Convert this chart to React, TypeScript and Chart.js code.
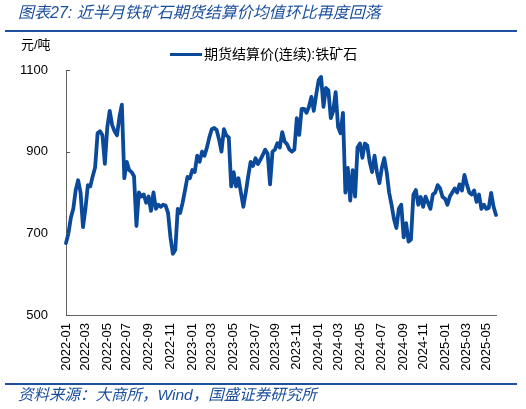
import React, { useEffect, useRef } from "react";
import { Chart, registerables } from "chart.js";

Chart.register(...registerables);

// Weekly settlement price (continuous), iron ore, yuan/ton. First point: 2022-01-07, one per week.
const firstWeek = "2022-01-07";
const values2022 = [676,700,738,760,806,830,800,715,760,818,815,840,862,945,950,940,870,960,1000,965,950,940,985,1015,835,875,855,850,840,718,800,790,795,775,790,755,800,760,770,765,770,768,750,690,650,660,760,750,775,806,838,835];
const values2023 = [855,850,890,875,900,890,910,935,955,958,953,930,900,955,940,935,815,850,815,835,800,765,800,840,875,865,884,870,880,892,905,895,820,900,905,921,910,948,925,918,905,900,905,982,941,1005,1005,995,1010,1034,1000,1040];
const values2024 = [1075,1083,1010,1056,1050,982,1000,1046,960,945,995,800,860,780,855,790,910,920,885,920,915,875,850,890,850,823,860,884,850,800,770,735,713,760,770,690,725,680,685,795,806,770,789,765,790,775,760,795,800,818,810,789];
const values2025 = [785,770,790,800,810,800,820,805,843,820,800,795,805,777,795,760,770,760,762,799,765,745];

const tickLabels = ["2022-01","2022-03","2022-05","2022-07","2022-09","2022-11","2023-01","2023-03","2023-05","2023-07","2023-09","2023-11","2024-01","2024-03","2024-05","2024-07","2024-09","2024-11","2025-01","2025-03","2025-05"];
const yTicks = [500, 700, 900, 1100];

const seriesName = "期货结算价(连续):铁矿石";
const titleText = "图表27:  近半月铁矿石期货结算价均值环比再度回落";
const sourceText = "资料来源：大商所，Wind，国盛证券研究所";
const unitText = "元/吨";

const BLUE = "#0B4A9A";
const CJK = '"Liberation Sans", Arial, "Noto Sans CJK SC", sans-serif';

export default function App() {
  const ref = useRef<HTMLCanvasElement | null>(null);

  useEffect(() => {
    const values = [...values2022, ...values2023, ...values2024, ...values2025];
    const start = Date.parse(firstWeek + "T00:00:00Z");
    const labels = values.map((_, i) => new Date(start + i * 7 * 86400000).toISOString().slice(0, 10));
    const monthKey = (i: number) => labels[i].slice(0, 7);

    const innerTicks = {
      id: "innerTicks",
      afterDraw(chart: any) {
        const y = chart.scales.y;
        const ctx = chart.ctx;
        ctx.save();
        ctx.strokeStyle = "#555";
        ctx.lineWidth = 1;
        yTicks.forEach((v) => {
          const py = Math.round(y.getPixelForValue(v)) + 0.5;
          ctx.beginPath();
          ctx.moveTo(y.right, py);
          ctx.lineTo(y.right + 4, py);
          ctx.stroke();
        });
        ctx.restore();
      },
    };

    const chart = new Chart(ref.current!, {
      type: "line",
      data: {
        labels,
        datasets: [
          {
            label: seriesName,
            data: values,
            borderColor: BLUE,
            backgroundColor: BLUE,
            borderWidth: 3.8,
            pointRadius: 0,
            tension: 0,
            borderJoinStyle: "round",
            borderCapStyle: "round",
          },
        ],
      },
      options: {
        animation: false,
        responsive: false,
        maintainAspectRatio: false,
        layout: { padding: { top: 70, right: 30, left: 0, bottom: 0 } },
        plugins: { legend: { display: false }, tooltip: { enabled: false } },
        scales: {
          x: {
            type: "category",
            offset: false,
            grid: { display: false, drawTicks: false },
            border: { display: true, color: "#666", width: 1 },
            afterFit: (s: any) => { s.height = 94; },
            ticks: {
              autoSkip: false,
              maxRotation: 90,
              minRotation: 90,
              padding: 8,
              color: "#000",
              font: { family: CJK, size: 13 },
              callback: (_v: any, i: number) => {
                const k = monthKey(i);
                if (tickLabels.includes(k) && (i === 0 || monthKey(i - 1) !== k)) return k;
                return "";
              },
            },
          },
          y: {
            min: 500,
            max: 1100,
            grid: { display: false, drawTicks: false },
            border: { display: true, color: "#666", width: 1 },
            afterFit: (s: any) => { s.width = 66; },
            afterBuildTicks: (s: any) => { s.ticks = yTicks.map((v) => ({ value: v })); },
            ticks: {
              padding: 18,
              color: "#000",
              font: { family: CJK, size: 13 },
              callback: (v: any) => String(v),
            },
          },
        },
      },
      plugins: [innerTicks],
    } as any);
    return () => chart.destroy();
  }, []);

  return (
    <div style={{ position: "fixed", left: 0, top: 0, width: 526, height: 409, background: "#fff", overflow: "hidden", fontFamily: CJK }}>
      <canvas ref={ref} width={526} height={409} style={{ position: "absolute", left: 0, top: 0, width: 526, height: 409 }} />
      <div style={{ position: "absolute", left: 18, top: 3, fontSize: 16, fontStyle: "italic", color: "#1B4F9C", whiteSpace: "nowrap", lineHeight: "20px" }}>{titleText}</div>
      <div style={{ position: "absolute", left: 5, top: 30, width: 512, height: 2, background: "#1E50A0" }} />
      <div style={{ position: "absolute", left: 21, top: 37, fontSize: 13, color: "#000", lineHeight: "16px" }}>{unitText}</div>
      <div style={{ position: "absolute", left: 170, top: 53, width: 32, height: 3, background: BLUE }} />
      <div style={{ position: "absolute", left: 204, top: 46, fontSize: 14, color: "#000", lineHeight: "16px", whiteSpace: "nowrap" }}>{seriesName}</div>
      <div style={{ position: "absolute", left: 5, top: 383, width: 512, height: 2, background: "#1E50A0" }} />
      <div style={{ position: "absolute", left: 18, top: 386, fontSize: 15.5, fontStyle: "italic", color: "#1B4F9C", whiteSpace: "nowrap", lineHeight: "18px" }}>{sourceText}</div>
    </div>
  );
}
